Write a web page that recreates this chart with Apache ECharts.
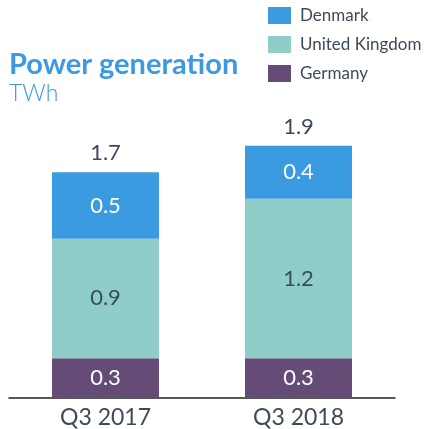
<!DOCTYPE html>
<html><head><meta charset="utf-8">
<script src="https://cdn.jsdelivr.net/npm/echarts@6/dist/echarts.min.js"></script>
<style>html,body{margin:0;padding:0;background:#fff}#c{width:425px;height:429px}</style>
</head><body><div id="c"></div>
<script>
const categories = ['Q3 2017', 'Q3 2018'];
const germany = [0.3, 0.3];
const unitedKingdom = [0.9, 1.2];
const denmark = [0.5, 0.4];
const totals = categories.map((_, i) => germany[i] + unitedKingdom[i] + denmark[i]);

const FONT = 'Lato';
const TEXT = '#3d4a5a';
const chart = echarts.init(document.getElementById('c'));
function seg(name, data, color, labelColor) {
  return {
    name, type: 'bar', stack: 'total', data, barWidth: 107,
    itemStyle: { color },
    label: { show: true, position: 'inside', color: labelColor, fontFamily: FONT, fontSize: 22,
      formatter: p => p.value.toFixed(1) },
    emphasis: { disabled: true }
  };
}
chart.setOption({
  animation: false,
  title: {
    text: 'Power generation', subtext: 'TWh', left: 4, top: 45, itemGap: 3,
    textStyle: { color: '#3b9ae1', fontFamily: FONT, fontSize: 29, fontWeight: 'bold' },
    subtextStyle: { color: '#3b9ae1', fontFamily: FONT, fontSize: 23, fontWeight: 300 }
  },
  legend: {
    orient: 'vertical', left: 263, top: 2, itemWidth: 23, itemHeight: 17, itemGap: 12,
    icon: 'rect', selectedMode: false,
    data: ['Denmark', 'United Kingdom', 'Germany'],
    textStyle: { color: TEXT, fontFamily: FONT, fontSize: 17, padding: [0, 0, 0, 4] }
  },
  grid: { left: 9, right: 30, bottom: 31, top: 66 },
  xAxis: {
    type: 'category', data: categories,
    axisLine: { lineStyle: { color: '#222', width: 1.5 } },
    axisTick: { show: false },
    axisLabel: { color: TEXT, fontFamily: FONT, fontSize: 23, margin: 8 }
  },
  yAxis: { type: 'value', min: 0, max: 2.5, show: false, splitLine: { show: false } },
  series: [
    seg('Germany', germany, '#644c76', '#ffffff'),
    seg('United Kingdom', unitedKingdom, '#8fcdc8', TEXT),
    seg('Denmark', denmark, '#3b9be0', '#ffffff'),
    {
      name: 'Total', type: 'bar', stack: 'total', data: totals.map(() => 0), barWidth: 107,
      label: { show: true, position: 'top', distance: 8, color: TEXT, fontFamily: FONT, fontSize: 22,
        formatter: p => totals[p.dataIndex].toFixed(1) },
      emphasis: { disabled: true }
    }
  ]
});
</script></body></html>
